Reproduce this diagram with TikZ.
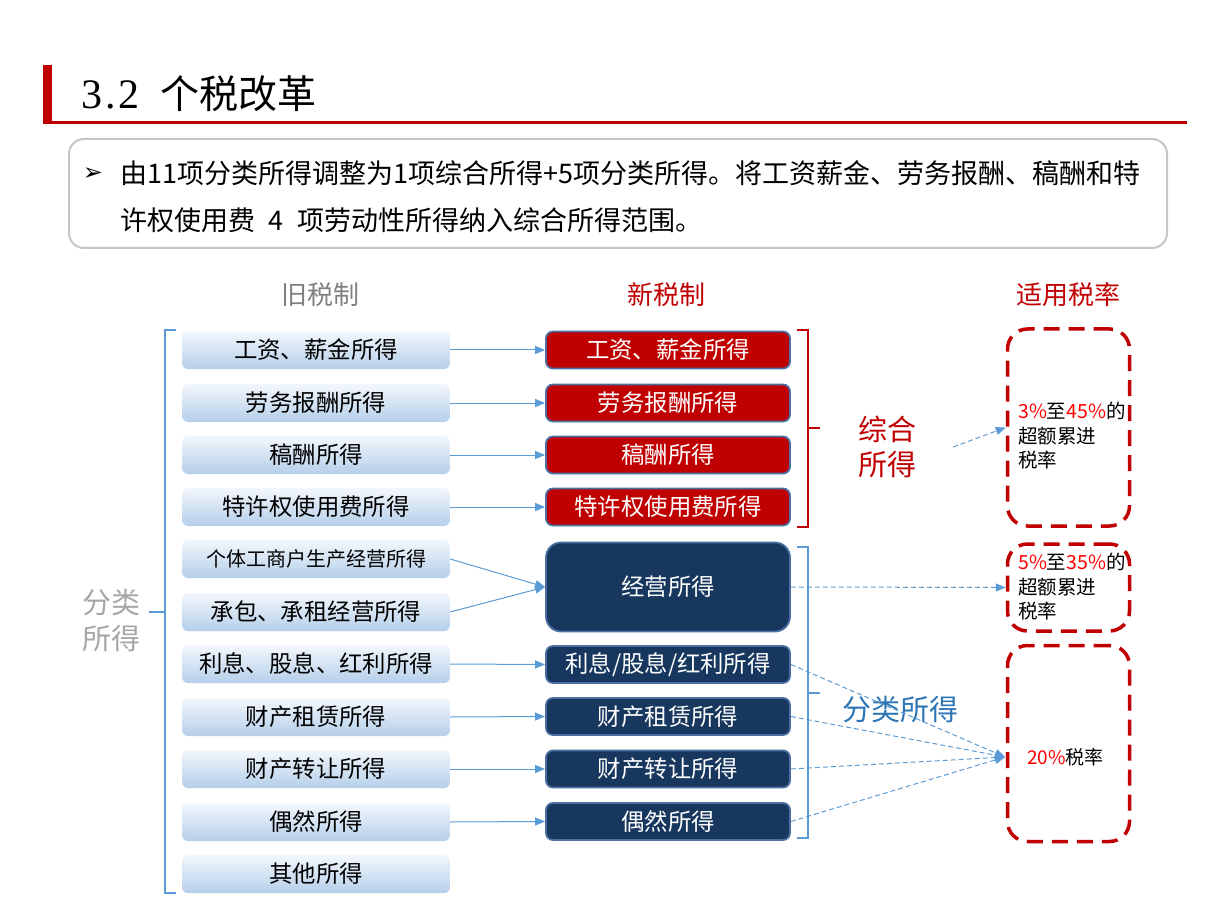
\documentclass[tikz,border=0pt]{standalone}
\usepackage{fontspec}
\setmainfont{Noto Sans CJK SC}
\newfontfamily\symfont{DejaVu Sans}
\newfontfamily\digitfont{Liberation Serif}
\usetikzlibrary{arrows.meta}
\definecolor{deepred}{HTML}{C00000}
\definecolor{navy}{HTML}{17375E}
\definecolor{edgeblue}{HTML}{4A6FA0}
\definecolor{linkblue}{HTML}{5B9BD5}
\definecolor{boxtop}{HTML}{F3F7FC}
\definecolor{boxbot}{HTML}{B5CFEA}
\definecolor{labelblue}{HTML}{2E75B6}
\definecolor{numred}{HTML}{FF0000}
\newcommand\pxfont[1]{\fontsize{#1}{#1}\selectfont}
\tikzset{
  oldbox/.style={rounded corners=6pt,minimum width=268pt,minimum height=38pt,top color=boxtop,bottom color=boxbot,draw=none,font=\pxfont{23.4}},
  newbox/.style={rounded corners=7pt,draw=edgeblue,line width=1.8pt,minimum width=244pt,minimum height=37pt,text=white,font=\pxfont{23.4}},
  redbox/.style={newbox,fill=deepred},
  navybox/.style={newbox,fill=navy},
  ratebox/.style={draw=deepred,line width=3.5pt,dash pattern=on 16pt off 9pt,rounded corners=20pt,minimum width=122pt},
  link/.style={linkblue,line width=1pt,-{Triangle[length=10pt,width=8pt]}},
  dashlink/.style={link,dash pattern=on 5pt off 3pt},
  brace/.style={line width=1.2pt}
}
\begin{document}
\begin{tikzpicture}[x=1pt,y=-1pt]
\useasboundingbox (0,0) rectangle (1213,909);
% title
\fill[deepred] (43,65) rectangle (52,124);
\draw[deepred,line width=3pt] (43,123)--(1187,123);
\node[anchor=west,font=\pxfont{39}] (title) at (78,94) {{\digitfont\fontsize{42}{42}\selectfont 3\kern3pt.\kern3pt2}\hspace{20pt}个税改革};
% note
\draw[gray!45,line width=2pt,rounded corners=15pt] (69,139) rectangle (1167,248);
\node[font=\symfont\pxfont{24}] (bullet) at (93,174) {➢};
\node[anchor=west,align=left,inner sep=0,font={\fontsize{27}{47}\selectfont}] (note) at (120,197) {由11项分类所得调整为1项综合所得+5项分类所得。将工资薪金、劳务报酬、稿酬和特\\许权使用费\hspace{.5em}4\hspace{.5em}项劳动性所得纳入综合所得范围。};
% headers
\node[font=\pxfont{26},text=gray] (oldhead) at (320,295) {旧税制};
\node[font=\pxfont{26},text=deepred] (newhead) at (666,295) {新税制};
\node[font=\pxfont{26},text=deepred] (ratehead) at (1068,295) {适用税率};
% old system
\node[oldbox] (wage) at (316,350) {工资、薪金所得};
\node[oldbox] (labour) at (316,403) {劳务报酬所得};
\node[oldbox] (royalty) at (316,455) {稿酬所得};
\node[oldbox] (licence) at (316,507) {特许权使用费所得};
\node[oldbox,font=\pxfont{20}] (indiv) at (316,559) {个体工商户生产经营所得};
\node[oldbox] (contract) at (316,612) {承包、承租经营所得};
\node[oldbox] (interest) at (316,664) {利息、股息、红利所得};
\node[oldbox] (lease) at (316,717) {财产租赁所得};
\node[oldbox] (transfer) at (316,769) {财产转让所得};
\node[oldbox] (chance) at (316,822) {偶然所得};
\node[oldbox] (other) at (316,874) {其他所得};
\draw[linkblue,brace] (176,330)--(165,330)--(165,612)--(149,612) (165,612)--(165,893)--(176,893);
\node[align=center,font={\fontsize{29}{36}\selectfont},text=gray!70] (splitL) at (111,621) {分类\\所得};
% new system
\node[redbox] (nwage) at (668,350) {工资、薪金所得};
\node[redbox] (nlabour) at (668,403) {劳务报酬所得};
\node[redbox] (nroyalty) at (668,455) {稿酬所得};
\node[redbox] (nlicence) at (668,507) {特许权使用费所得};
\node[navybox,minimum height=89pt,rounded corners=15pt] (nbiz) at (668,587) {经营所得};
\node[navybox] (ninterest) at (668,664.5) {利息/股息/红利所得};
\node[navybox] (nlease) at (668,716.5) {财产租赁所得};
\node[navybox] (ntransfer) at (668,769) {财产转让所得};
\node[navybox] (nchance) at (668,821.5) {偶然所得};
\draw[link] (wage.east)--(nwage.west);
\draw[link] (labour.east)--(nlabour.west);
\draw[link] (royalty.east)--(nroyalty.west);
\draw[link] (licence.east)--(nlicence.west);
\draw[link] (indiv.east)--(nbiz.west);
\draw[link] (contract.east)--(nbiz.west);
\draw[link] (interest.east)--(ninterest.west);
\draw[link] (lease.east)--(nlease.west);
\draw[link] (transfer.east)--(ntransfer.west);
\draw[link] (chance.east)--(nchance.west);
% braces
\draw[deepred,brace] (797,330)--(808,330)--(808,527)--(797,527) (808,428)--(820,428);
\draw[linkblue,brace] (797,547)--(808,547)--(808,838)--(797,838) (808,693)--(820,693);
\node[align=center,font={\fontsize{29}{35}\selectfont},text=deepred] (combo) at (887,447) {综合\\所得};
\node[font=\pxfont{29},text=labelblue] (splitR) at (900,710) {分类所得};
% rates
\node[ratebox,minimum height=197pt] (rate1) at (1068.5,427.5) {};
\node[ratebox,minimum height=87pt] (rate2) at (1068.5,587.5) {};
\node[ratebox,minimum height=196pt] (rate3) at (1068.5,743.5) {};
\node[anchor=west,align=left,inner sep=0,font={\fontsize{19.5}{24.5}\selectfont}] (rate1txt) at (1018,436) {\textcolor{numred}{3\%}至\textcolor{numred}{45\%}的\\超额累进\\税率};
\node[anchor=west,align=left,inner sep=0,font={\fontsize{19.5}{24.5}\selectfont}] (rate2txt) at (1018,587) {\textcolor{numred}{5\%}至\textcolor{numred}{35\%}的\\超额累进\\税率};
\node[anchor=west,inner sep=0,font=\pxfont{19}] (rate3txt) at (1027,757) {\textcolor{numred}{20\%}税率};
\coordinate (combotail) at (953,447);
\coordinate (rate3in) at (1005,757);
\draw[dashlink] (combotail)--(rate1.west);
\draw[dashlink] (nbiz.east)--(rate2.west);
\draw[dashlink] (ninterest.east)--(rate3in);
\draw[dashlink] (nlease.east)--(rate3in);
\draw[dashlink] (ntransfer.east)--(rate3in);
\draw[dashlink] (nchance.east)--(rate3in);
\end{tikzpicture}
\end{document}
